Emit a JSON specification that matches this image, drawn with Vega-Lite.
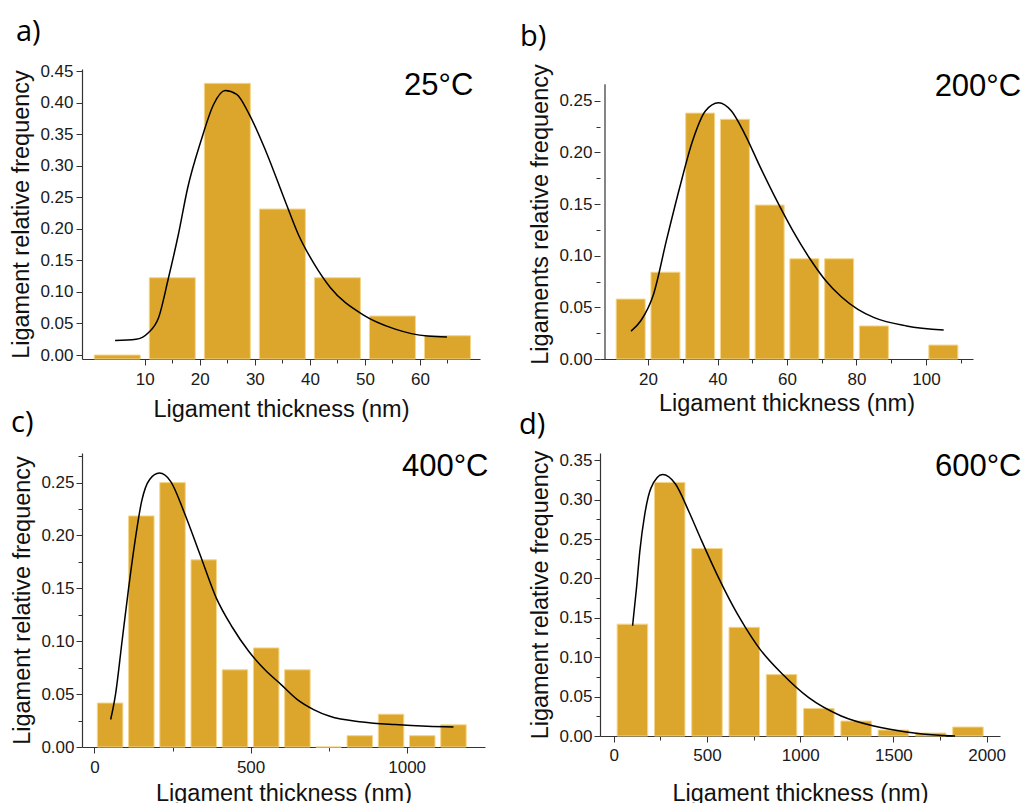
{
  "$schema": "https://vega.github.io/schema/vega-lite/v6.json",
  "padding": {"left": 9, "top": 18, "right": 0, "bottom": 0},
  "background": "white",
  "config": {
    "view": {"stroke": null},
    "axis": {
      "grid": false,
      "domainColor": "#333333",
      "domainWidth": 1.2,
      "tickColor": "#333333",
      "tickWidth": 1,
      "labelColor": "#1a1a1a",
      "labelFont": "Liberation Sans",
      "labelFontSize": 17,
      "labelFlush": false,
      "labelOverlap": false,
      "titleColor": "#111111",
      "titleFont": "Liberation Sans",
      "titleFontSize": 23.5,
      "titleFontWeight": "normal"
    }
  },
  "datasets": {
    "barsA": [
      {"thickness": 5, "freq": 0.0},
      {"thickness": 15, "freq": 0.1225},
      {"thickness": 25, "freq": 0.4305},
      {"thickness": 35, "freq": 0.2313},
      {"thickness": 45, "freq": 0.1225},
      {"thickness": 55, "freq": 0.0618},
      {"thickness": 65, "freq": 0.0306}
    ],
    "curveA": [
      {"thickness": 4.6, "freq": 0.023},
      {"thickness": 8.4, "freq": 0.025},
      {"thickness": 10.6, "freq": 0.035},
      {"thickness": 12.5, "freq": 0.059},
      {"thickness": 14.3, "freq": 0.122},
      {"thickness": 16.1, "freq": 0.191},
      {"thickness": 17.8, "freq": 0.265},
      {"thickness": 20.2, "freq": 0.339},
      {"thickness": 22.5, "freq": 0.397},
      {"thickness": 24.6, "freq": 0.419},
      {"thickness": 26.7, "freq": 0.413},
      {"thickness": 29.0, "freq": 0.381},
      {"thickness": 32.0, "freq": 0.323},
      {"thickness": 35.5, "freq": 0.244},
      {"thickness": 37.9, "freq": 0.191},
      {"thickness": 40.8, "freq": 0.144},
      {"thickness": 43.7, "freq": 0.107},
      {"thickness": 49.6, "freq": 0.064},
      {"thickness": 55.5, "freq": 0.041},
      {"thickness": 61.4, "freq": 0.030},
      {"thickness": 64.9, "freq": 0.0285}
    ],
    "barsB": [
      {"thickness": 15, "freq": 0.058},
      {"thickness": 25, "freq": 0.084},
      {"thickness": 35, "freq": 0.238},
      {"thickness": 45, "freq": 0.232},
      {"thickness": 55, "freq": 0.149},
      {"thickness": 65, "freq": 0.097},
      {"thickness": 75, "freq": 0.097},
      {"thickness": 85, "freq": 0.032},
      {"thickness": 105, "freq": 0.0135}
    ],
    "curveB": [
      {"thickness": 15.1, "freq": 0.027},
      {"thickness": 17.9, "freq": 0.037},
      {"thickness": 21.6, "freq": 0.063},
      {"thickness": 25.3, "freq": 0.115},
      {"thickness": 29.1, "freq": 0.166},
      {"thickness": 32.8, "freq": 0.211},
      {"thickness": 36.5, "freq": 0.240},
      {"thickness": 40.3, "freq": 0.248},
      {"thickness": 44.0, "freq": 0.240},
      {"thickness": 47.8, "freq": 0.218},
      {"thickness": 52.4, "freq": 0.185},
      {"thickness": 57.1, "freq": 0.153},
      {"thickness": 61.7, "freq": 0.124},
      {"thickness": 66.4, "freq": 0.098},
      {"thickness": 71.1, "freq": 0.076},
      {"thickness": 75.7, "freq": 0.060},
      {"thickness": 80.4, "freq": 0.048},
      {"thickness": 85.1, "freq": 0.040},
      {"thickness": 94.4, "freq": 0.032},
      {"thickness": 105.1, "freq": 0.028}
    ],
    "barsC": [
      {"thickness": 50, "freq": 0.0416},
      {"thickness": 150, "freq": 0.2185},
      {"thickness": 250, "freq": 0.25},
      {"thickness": 350, "freq": 0.177},
      {"thickness": 450, "freq": 0.073},
      {"thickness": 550, "freq": 0.0937},
      {"thickness": 650, "freq": 0.073},
      {"thickness": 750, "freq": 0.0},
      {"thickness": 850, "freq": 0.0107},
      {"thickness": 950, "freq": 0.031},
      {"thickness": 1050, "freq": 0.0107},
      {"thickness": 1150, "freq": 0.021}
    ],
    "curveC": [
      {"thickness": 51.9, "freq": 0.026},
      {"thickness": 67.5, "freq": 0.050},
      {"thickness": 88.3, "freq": 0.100},
      {"thickness": 109.2, "freq": 0.150},
      {"thickness": 130, "freq": 0.195},
      {"thickness": 150.8, "freq": 0.232},
      {"thickness": 176.7, "freq": 0.253},
      {"thickness": 207.9, "freq": 0.259},
      {"thickness": 244.4, "freq": 0.251},
      {"thickness": 285.9, "freq": 0.223},
      {"thickness": 338, "freq": 0.182},
      {"thickness": 390, "freq": 0.141},
      {"thickness": 442, "freq": 0.113},
      {"thickness": 494, "freq": 0.0905},
      {"thickness": 546, "freq": 0.073},
      {"thickness": 598, "freq": 0.059},
      {"thickness": 650, "freq": 0.0448},
      {"thickness": 702, "freq": 0.0354},
      {"thickness": 754, "freq": 0.029},
      {"thickness": 858, "freq": 0.0237},
      {"thickness": 962, "freq": 0.0212},
      {"thickness": 1066, "freq": 0.0196},
      {"thickness": 1150, "freq": 0.019}
    ],
    "barsD": [
      {"thickness": 100, "freq": 0.142},
      {"thickness": 300, "freq": 0.322},
      {"thickness": 500, "freq": 0.238},
      {"thickness": 700, "freq": 0.138},
      {"thickness": 900, "freq": 0.078},
      {"thickness": 1100, "freq": 0.035},
      {"thickness": 1300, "freq": 0.019},
      {"thickness": 1500, "freq": 0.0076},
      {"thickness": 1700, "freq": 0.0038},
      {"thickness": 1900, "freq": 0.0114}
    ],
    "curveD": [
      {"thickness": 101, "freq": 0.140},
      {"thickness": 122, "freq": 0.188},
      {"thickness": 140, "freq": 0.235},
      {"thickness": 166, "freq": 0.281},
      {"thickness": 200, "freq": 0.315},
      {"thickness": 262, "freq": 0.332},
      {"thickness": 331, "freq": 0.320},
      {"thickness": 401, "freq": 0.286},
      {"thickness": 471, "freq": 0.248},
      {"thickness": 558, "freq": 0.203},
      {"thickness": 663, "freq": 0.155},
      {"thickness": 706, "freq": 0.138},
      {"thickness": 785, "freq": 0.110},
      {"thickness": 907, "freq": 0.078},
      {"thickness": 1046, "freq": 0.0486},
      {"thickness": 1220, "freq": 0.0254},
      {"thickness": 1395, "freq": 0.0127},
      {"thickness": 1569, "freq": 0.0051},
      {"thickness": 1744, "freq": 0.0009},
      {"thickness": 1831, "freq": 0.0}
    ]
  },
  "columns": 2,
  "spacing": {"row": 90, "column": 115},
  "bounds": "flush",
  "align": "all",
  "concat": [
    {
      "width": 398,
      "height": 290,
      "title": {"text": "a)", "anchor": "start", "frame": "group", "dx": -66, "dy": 35, "offset": 27, "baseline": "alphabetic", "font": "Open Sans", "fontSize": 29, "fontWeight": "normal", "color": "#000000"},
      "layer": [
        {
          "data": {"name": "barsA"},
          "mark": {"type": "bar", "size": 46, "fill": "#DCA62C", "stroke": "#F4D58A", "strokeWidth": 1},
          "encoding": {
            "x": {"field": "thickness", "type": "quantitative", "title": "Ligament thickness (nm)",
              "scale": {"domain": [-0.5, 70], "nice": false, "zero": false},
              "axis": {"values": [10, 15, 20, 25, 30, 35, 40, 45, 50, 55, 60, 65], "labelExpr": "datum.value % 10 == 0 ? format(datum.value, 'd') : ''", "labelOverlap": false, "tickSize": {"condition": {"test": "datum.value % 10 == 0", "value": 6}, "value": 4}, "labelPadding": 6, "titlePadding": 10}},
            "y": {"field": "freq", "type": "quantitative", "title": "Ligament relative frequency",
              "scale": {"domain": [-0.0063, 0.4532], "nice": false, "zero": false},
              "axis": {"values": [0, 0.05, 0.1, 0.15, 0.2, 0.25, 0.3, 0.35, 0.4, 0.45], "format": ".2f", "labelOverlap": false, "tickSize": 6, "labelPadding": 3, "titlePadding": 6}},
            "y2": {"datum": -0.0063}
          }
        },
        {
          "data": {"name": "curveA"},
          "mark": {"type": "line", "color": "#000000", "strokeWidth": 1.5, "interpolate": "monotone"},
          "encoding": {
            "x": {"field": "thickness", "type": "quantitative", "title": "Ligament thickness (nm)",
              "axis": {"values": [10, 15, 20, 25, 30, 35, 40, 45, 50, 55, 60, 65], "labelExpr": "datum.value % 10 == 0 ? format(datum.value, 'd') : ''", "labelOverlap": false, "tickSize": {"condition": {"test": "datum.value % 10 == 0", "value": 6}, "value": 4}, "labelPadding": 6, "titlePadding": 10}},
            "y": {"field": "freq", "type": "quantitative", "title": "Ligament relative frequency",
              "axis": {"values": [0, 0.05, 0.1, 0.15, 0.2, 0.25, 0.3, 0.35, 0.4, 0.45], "format": ".2f", "labelOverlap": false, "tickSize": 6, "labelPadding": 3, "titlePadding": 6}}
          }
        },
        {
          "data": {"values": [{"label": "25°C"}]},
          "mark": {"type": "text", "align": "right", "baseline": "alphabetic", "font": "Liberation Sans", "fontSize": 31, "color": "#000000"},
          "encoding": {
            "x": {"datum": 69.7, "title": "Ligament thickness (nm)",
              "axis": {"values": [10, 15, 20, 25, 30, 35, 40, 45, 50, 55, 60, 65], "labelExpr": "datum.value % 10 == 0 ? format(datum.value, 'd') : ''", "labelOverlap": false, "tickSize": {"condition": {"test": "datum.value % 10 == 0", "value": 6}, "value": 4}, "labelPadding": 6, "titlePadding": 10}},
            "y": {"datum": 0.412, "title": "Ligament relative frequency",
              "axis": {"values": [0, 0.05, 0.1, 0.15, 0.2, 0.25, 0.3, 0.35, 0.4, 0.45], "format": ".2f", "labelOverlap": false, "tickSize": 6, "labelPadding": 3, "titlePadding": 6}},
            "text": {"field": "label"}
          }
        }
      ]
    },
    {
      "width": 373,
      "height": 290,
      "title": {"text": "b)", "anchor": "start", "frame": "group", "dx": -80, "dy": 39, "offset": 28, "baseline": "alphabetic", "font": "Open Sans", "fontSize": 29, "fontWeight": "normal", "color": "#000000"},
      "layer": [
        {
          "data": {"name": "barsB"},
          "mark": {"type": "bar", "size": 29, "fill": "#DCA62C", "stroke": "#F4D58A", "strokeWidth": 1},
          "encoding": {
            "x": {"field": "thickness", "type": "quantitative", "title": "Ligament thickness (nm)",
              "scale": {"domain": [7.6, 112.1], "nice": false, "zero": false},
              "axis": {"values": [20, 30, 40, 50, 60, 70, 80, 90, 100, 110], "labelExpr": "datum.value % 20 == 0 ? format(datum.value, 'd') : ''", "labelOverlap": false, "tickSize": {"condition": {"test": "datum.value % 20 == 0", "value": 6}, "value": 4}, "labelPadding": 6, "titlePadding": 4}},
            "y": {"field": "freq", "type": "quantitative", "title": "Ligaments relative frequency",
              "scale": {"domain": [0, 0.2807], "nice": false},
              "axis": {"domain": false, "values": [0, 0.025, 0.05, 0.075, 0.1, 0.125, 0.15, 0.175, 0.2, 0.225, 0.25], "labelExpr": "round(datum.value*1000) % 50 == 0 ? format(datum.value, '.2f') : ''", "labelOverlap": false, "tickSize": {"condition": {"test": "round(datum.value*1000) % 50 == 0", "value": 6}, "value": 4}, "labelPadding": 2, "titlePadding": 6}}
          }
        },
        {
          "data": {"name": "curveB"},
          "mark": {"type": "line", "color": "#000000", "strokeWidth": 1.5, "interpolate": "monotone"},
          "encoding": {
            "x": {"field": "thickness", "type": "quantitative", "title": "Ligament thickness (nm)",
              "axis": {"values": [20, 30, 40, 50, 60, 70, 80, 90, 100, 110], "labelExpr": "datum.value % 20 == 0 ? format(datum.value, 'd') : ''", "labelOverlap": false, "tickSize": {"condition": {"test": "datum.value % 20 == 0", "value": 6}, "value": 4}, "labelPadding": 6, "titlePadding": 4}},
            "y": {"field": "freq", "type": "quantitative", "title": "Ligaments relative frequency",
              "axis": {"domain": false, "values": [0, 0.025, 0.05, 0.075, 0.1, 0.125, 0.15, 0.175, 0.2, 0.225, 0.25], "labelExpr": "round(datum.value*1000) % 50 == 0 ? format(datum.value, '.2f') : ''", "labelOverlap": false, "tickSize": {"condition": {"test": "round(datum.value*1000) % 50 == 0", "value": 6}, "value": 4}, "labelPadding": 2, "titlePadding": 6}}
          }
        },
        {
          "data": {"values": [{"label": "axis"}]},
          "mark": {"type": "rule", "color": "#333333", "strokeWidth": 1.2},
          "encoding": {
            "x": {"datum": 7.6, "title": "Ligament thickness (nm)",
              "axis": {"values": [20, 30, 40, 50, 60, 70, 80, 90, 100, 110], "labelExpr": "datum.value % 20 == 0 ? format(datum.value, 'd') : ''", "labelOverlap": false, "tickSize": {"condition": {"test": "datum.value % 20 == 0", "value": 6}, "value": 4}, "labelPadding": 6, "titlePadding": 4}},
            "y": {"datum": 0, "title": "Ligaments relative frequency",
              "axis": {"domain": false, "values": [0, 0.025, 0.05, 0.075, 0.1, 0.125, 0.15, 0.175, 0.2, 0.225, 0.25], "labelExpr": "round(datum.value*1000) % 50 == 0 ? format(datum.value, '.2f') : ''", "labelOverlap": false, "tickSize": {"condition": {"test": "round(datum.value*1000) % 50 == 0", "value": 6}, "value": 4}, "labelPadding": 2, "titlePadding": 6}},
            "y2": {"datum": 0.266}
          }
        },
        {
          "data": {"values": [{"label": "200°C"}]},
          "mark": {"type": "text", "align": "right", "baseline": "alphabetic", "font": "Liberation Sans", "fontSize": 31, "color": "#000000"},
          "encoding": {
            "x": {"datum": 127.4, "title": "Ligament thickness (nm)",
              "axis": {"values": [20, 30, 40, 50, 60, 70, 80, 90, 100, 110], "labelExpr": "datum.value % 20 == 0 ? format(datum.value, 'd') : ''", "labelOverlap": false, "tickSize": {"condition": {"test": "datum.value % 20 == 0", "value": 6}, "value": 4}, "labelPadding": 6, "titlePadding": 4}},
            "y": {"datum": 0.255, "title": "Ligaments relative frequency",
              "axis": {"domain": false, "values": [0, 0.025, 0.05, 0.075, 0.1, 0.125, 0.15, 0.175, 0.2, 0.225, 0.25], "labelExpr": "round(datum.value*1000) % 50 == 0 ? format(datum.value, '.2f') : ''", "labelOverlap": false, "tickSize": {"condition": {"test": "round(datum.value*1000) % 50 == 0", "value": 6}, "value": 4}, "labelPadding": 2, "titlePadding": 6}},
            "text": {"field": "label"}
          }
        }
      ]
    },
    {
      "width": 403,
      "height": 294,
      "title": {"text": "c)", "anchor": "start", "frame": "group", "dx": -71, "dy": 36, "offset": 22, "baseline": "alphabetic", "font": "Open Sans", "fontSize": 29, "fontWeight": "normal", "color": "#000000"},
      "layer": [
        {
          "data": {"name": "barsC"},
          "mark": {"type": "bar", "size": 25.5, "fill": "#DCA62C", "stroke": "#F4D58A", "strokeWidth": 1},
          "encoding": {
            "x": {"field": "thickness", "type": "quantitative", "title": "Ligament thickness (nm)",
              "scale": {"domain": [-24, 1235], "nice": false, "zero": false},
              "axis": {"values": [0, 250, 500, 750, 1000], "labelExpr": "datum.value % 500 == 0 ? format(datum.value, 'd') : ''", "labelOverlap": false, "tickSize": {"condition": {"test": "datum.value % 500 == 0", "value": 6}, "value": 4}, "labelPadding": 6, "titlePadding": 6}},
            "y": {"field": "freq", "type": "quantitative", "title": "Ligament relative frequency",
              "scale": {"domain": [0, 0.278], "nice": false},
              "axis": {"values": [0, 0.025, 0.05, 0.075, 0.1, 0.125, 0.15, 0.175, 0.2, 0.225, 0.25, 0.275], "labelExpr": "round(datum.value*1000) % 50 == 0 ? format(datum.value, '.2f') : ''", "labelOverlap": false, "tickSize": {"condition": {"test": "round(datum.value*1000) % 50 == 0", "value": 6}, "value": 4}, "labelPadding": 2, "titlePadding": 6}}
          }
        },
        {
          "data": {"name": "curveC"},
          "mark": {"type": "line", "color": "#000000", "strokeWidth": 1.5, "interpolate": "monotone"},
          "encoding": {
            "x": {"field": "thickness", "type": "quantitative", "title": "Ligament thickness (nm)",
              "axis": {"values": [0, 250, 500, 750, 1000], "labelExpr": "datum.value % 500 == 0 ? format(datum.value, 'd') : ''", "labelOverlap": false, "tickSize": {"condition": {"test": "datum.value % 500 == 0", "value": 6}, "value": 4}, "labelPadding": 6, "titlePadding": 6}},
            "y": {"field": "freq", "type": "quantitative", "title": "Ligament relative frequency",
              "axis": {"values": [0, 0.025, 0.05, 0.075, 0.1, 0.125, 0.15, 0.175, 0.2, 0.225, 0.25, 0.275], "labelExpr": "round(datum.value*1000) % 50 == 0 ? format(datum.value, '.2f') : ''", "labelOverlap": false, "tickSize": {"condition": {"test": "round(datum.value*1000) % 50 == 0", "value": 6}, "value": 4}, "labelPadding": 2, "titlePadding": 6}}
          }
        },
        {
          "data": {"values": [{"label": "400°C"}]},
          "mark": {"type": "text", "align": "right", "baseline": "alphabetic", "font": "Liberation Sans", "fontSize": 31, "color": "#000000"},
          "encoding": {
            "x": {"datum": 1262, "title": "Ligament thickness (nm)",
              "axis": {"values": [0, 250, 500, 750, 1000], "labelExpr": "datum.value % 500 == 0 ? format(datum.value, 'd') : ''", "labelOverlap": false, "tickSize": {"condition": {"test": "datum.value % 500 == 0", "value": 6}, "value": 4}, "labelPadding": 6, "titlePadding": 6}},
            "y": {"datum": 0.256, "title": "Ligament relative frequency",
              "axis": {"values": [0, 0.025, 0.05, 0.075, 0.1, 0.125, 0.15, 0.175, 0.2, 0.225, 0.25, 0.275], "labelExpr": "round(datum.value*1000) % 50 == 0 ? format(datum.value, '.2f') : ''", "labelOverlap": false, "tickSize": {"condition": {"test": "round(datum.value*1000) % 50 == 0", "value": 6}, "value": 4}, "labelPadding": 2, "titlePadding": 6}},
            "text": {"field": "label"}
          }
        }
      ]
    },
    {
      "width": 400,
      "height": 283,
      "title": {"text": "d)", "anchor": "start", "frame": "group", "dx": -81, "dy": 35, "offset": 22, "baseline": "alphabetic", "font": "Open Sans", "fontSize": 29, "fontWeight": "normal", "color": "#000000"},
      "layer": [
        {
          "data": {"name": "barsD"},
          "mark": {"type": "bar", "size": 30.5, "fill": "#DCA62C", "stroke": "#F4D58A", "strokeWidth": 1},
          "encoding": {
            "x": {"field": "thickness", "type": "quantitative", "title": "Ligament thickness (nm)",
              "scale": {"domain": [-47, 2045], "nice": false, "zero": false},
              "axis": {"values": [0, 250, 500, 750, 1000, 1250, 1500, 1750, 2000], "labelExpr": "datum.value % 500 == 0 ? format(datum.value, 'd') : ''", "labelOverlap": false, "tickSize": {"condition": {"test": "datum.value % 500 == 0", "value": 6}, "value": 4}, "labelPadding": 5, "titlePadding": 18}},
            "y": {"field": "freq", "type": "quantitative", "title": "Ligament relative frequency",
              "scale": {"domain": [0, 0.3593], "nice": false},
              "axis": {"values": [0, 0.025, 0.05, 0.075, 0.1, 0.125, 0.15, 0.175, 0.2, 0.225, 0.25, 0.275, 0.3, 0.325, 0.35], "labelExpr": "round(datum.value*1000) % 50 == 0 ? format(datum.value, '.2f') : ''", "labelOverlap": false, "tickSize": {"condition": {"test": "round(datum.value*1000) % 50 == 0", "value": 6}, "value": 4}, "labelPadding": 2, "titlePadding": 6}}
          }
        },
        {
          "data": {"name": "curveD"},
          "mark": {"type": "line", "color": "#000000", "strokeWidth": 1.5, "interpolate": "monotone"},
          "encoding": {
            "x": {"field": "thickness", "type": "quantitative", "title": "Ligament thickness (nm)",
              "axis": {"values": [0, 250, 500, 750, 1000, 1250, 1500, 1750, 2000], "labelExpr": "datum.value % 500 == 0 ? format(datum.value, 'd') : ''", "labelOverlap": false, "tickSize": {"condition": {"test": "datum.value % 500 == 0", "value": 6}, "value": 4}, "labelPadding": 5, "titlePadding": 18}},
            "y": {"field": "freq", "type": "quantitative", "title": "Ligament relative frequency",
              "axis": {"values": [0, 0.025, 0.05, 0.075, 0.1, 0.125, 0.15, 0.175, 0.2, 0.225, 0.25, 0.275, 0.3, 0.325, 0.35], "labelExpr": "round(datum.value*1000) % 50 == 0 ? format(datum.value, '.2f') : ''", "labelOverlap": false, "tickSize": {"condition": {"test": "round(datum.value*1000) % 50 == 0", "value": 6}, "value": 4}, "labelPadding": 2, "titlePadding": 6}}
          }
        },
        {
          "data": {"values": [{"label": "600°C"}]},
          "mark": {"type": "text", "align": "right", "baseline": "alphabetic", "font": "Liberation Sans", "fontSize": 31, "color": "#000000"},
          "encoding": {
            "x": {"datum": 2187, "title": "Ligament thickness (nm)",
              "axis": {"values": [0, 250, 500, 750, 1000, 1250, 1500, 1750, 2000], "labelExpr": "datum.value % 500 == 0 ? format(datum.value, 'd') : ''", "labelOverlap": false, "tickSize": {"condition": {"test": "datum.value % 500 == 0", "value": 6}, "value": 4}, "labelPadding": 5, "titlePadding": 18}},
            "y": {"datum": 0.330, "title": "Ligament relative frequency",
              "axis": {"values": [0, 0.025, 0.05, 0.075, 0.1, 0.125, 0.15, 0.175, 0.2, 0.225, 0.25, 0.275, 0.3, 0.325, 0.35], "labelExpr": "round(datum.value*1000) % 50 == 0 ? format(datum.value, '.2f') : ''", "labelOverlap": false, "tickSize": {"condition": {"test": "round(datum.value*1000) % 50 == 0", "value": 6}, "value": 4}, "labelPadding": 2, "titlePadding": 6}},
            "text": {"field": "label"}
          }
        }
      ]
    }
  ]
}
